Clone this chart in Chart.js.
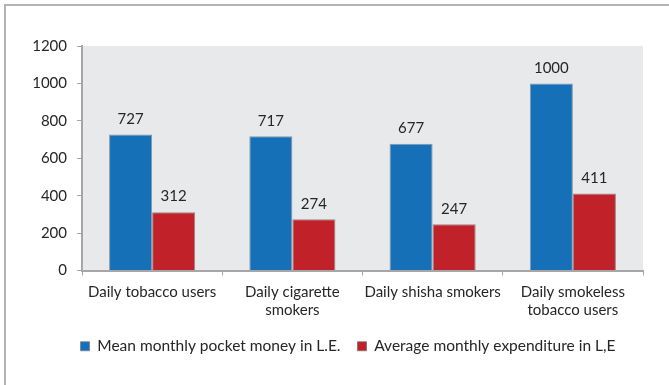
<!DOCTYPE html>
<html>
<head>
<meta charset="utf-8">
<script src="https://cdn.jsdelivr.net/npm/chart.js@4"></script>
<style>
    body { margin: 0; background: #fff; }
    #wrap { position: relative; width: 669px; height: 385px; }
    #frame { position: absolute; left: 4px; top: 4px; right: -10px; bottom: -10px; border-top: 2px solid #b4b4b6; border-left: 2px solid #b4b4b6; }
    canvas { position: absolute; left: 0; top: 0; }
</style>
</head>
<body>
<div id="wrap">
    <div id="frame"></div>
    <canvas id="myChart" width="669" height="385"></canvas>
</div>
<script>
const categories = [['Daily tobacco users'], ['Daily cigarette', 'smokers'], ['Daily shisha smokers'], ['Daily smokeless', 'tobacco users']];
const pocketMoney = [727, 717, 677, 1000];
const expenditure = [312, 274, 247, 411];
const seriesNames = ['Mean monthly pocket money in L.E.', 'Average monthly expenditure in L,E'];
const yTicks = [0, 200, 400, 600, 800, 1000, 1200];

const fontName = 'Lato';

// grey plot background
const plotBackground = {
    id: 'plotBackground',
    beforeDraw(chart) {
        const a = chart.chartArea;
        const ctx = chart.ctx;
        ctx.save();
        ctx.fillStyle = '#e8e9eb';
        ctx.fillRect(a.left, a.top, a.right - a.left, a.bottom - a.top);
        ctx.restore();
    }
};

// value labels above the bars
const valueLabels = {
    id: 'valueLabels',
    afterDatasetsDraw(chart) {
        const ctx = chart.ctx;
        ctx.save();
        ctx.font = '15px ' + fontName;
        ctx.fillStyle = '#262626';
        ctx.textAlign = 'center';
        ctx.textBaseline = 'bottom';
        chart.data.datasets.forEach((ds, i) => {
            chart.getDatasetMeta(i).data.forEach((bar, j) => {
                ctx.fillText(ds.data[j], bar.x, bar.y - 8);
            });
        });
        ctx.restore();
    }
};

// move the legend a bit: up towards the axis and centred like the original
const legendShift = {
    id: 'legendShift',
    afterLayout(chart) {
        const lg = chart.legend;
        const dx = 348 - (lg.left + lg.right) / 2;
        lg.left += dx;
        lg.right += dx;
        lg.top -= 6;
        lg.bottom -= 6;
    }
};

const config = {
    type: 'bar',
    data: {
        labels: categories,
        datasets: [{
            label: seriesNames[0],
            data: pocketMoney,
            backgroundColor: '#1570b8',
            borderColor: 'rgba(110,130,150,0.8)',
            borderWidth: 1
        }, {
            label: seriesNames[1],
            data: expenditure,
            backgroundColor: '#c1222a',
            borderColor: 'rgba(130,110,110,0.8)',
            borderWidth: 1
        }]
    },
    options: {
        responsive: false,
        animation: false,
        layout: {padding: {left: 20, right: 26, top: 46, bottom: 15}},
        datasets: {bar: {categoryPercentage: 0.614, barPercentage: 1}},
        scales: {
            y: {
                min: 0,
                max: 1200,
                afterFit(scale) { scale.width = 62; },
                afterBuildTicks(scale) { scale.ticks = yTicks.map(v => ({value: v})); },
                border: {color: '#a6a6a8', width: 2},
                grid: {drawOnChartArea: false, tickLength: 5, color: '#a6a6a8', lineWidth: 1},
                ticks: {padding: 10, color: '#262626', font: {family: fontName, size: 15}, callback: v => String(v)}
            },
            x: {
                border: {color: '#a6a6a8', width: 2},
                grid: {drawOnChartArea: false, offset: true, tickLength: 5, color: '#a6a6a8'},
                ticks: {padding: 8, color: '#262626', maxRotation: 0, font: {family: fontName, size: 15, lineHeight: 1.2}}
            }
        },
        plugins: {
            legend: {
                position: 'bottom',
                labels: {
                    boxWidth: 9,
                    boxHeight: 9,
                    padding: 17,
                    color: '#262626',
                    font: {family: fontName, size: 15.5}
                }
            },
            tooltip: {enabled: false}
        }
    },
    plugins: [plotBackground, valueLabels, legendShift]
};

var myChart = new Chart(document.getElementById('myChart'), config);
</script>
</body>
</html>
